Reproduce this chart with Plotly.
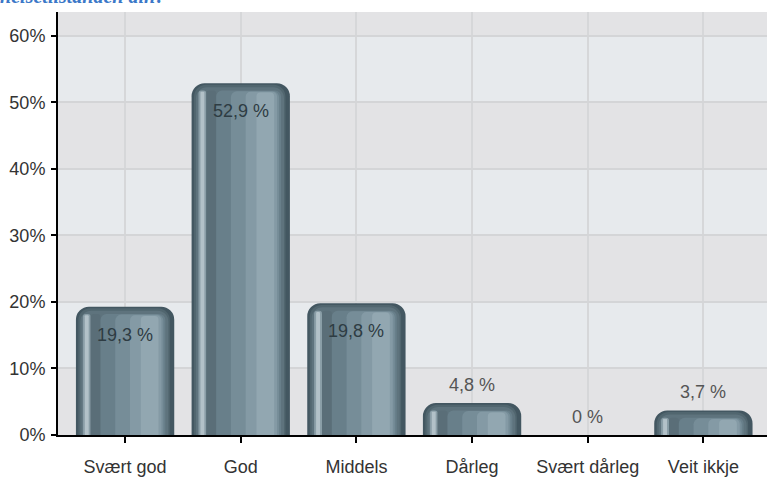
import plotly.graph_objects as go

# ---- data ----
categories = ["Svært god", "God", "Middels", "Dårleg", "Svært dårleg", "Veit ikkje"]
values = [19.3, 52.9, 19.8, 4.8, 0, 3.7]
value_labels = ["19,3 %", "52,9 %", "19,8 %", "4,8 %", "0 %", "3,7 %"]
y_tick_values = [0, 10, 20, 30, 40, 50, 60]
y_tick_labels = ["0%", "10%", "20%", "30%", "40%", "50%", "60%"]
title_text = "Korleis vurderer du helsetilstanden din?"

# ---- styling ----
FONT = "Liberation Sans, Arial, sans-serif"
BAR_W = 0.85
Y_MAX = 63.6
# strips to mimic the metallic cylinder gradient: (left frac, right frac, colour, corner radius px, top inset in %-points)
strips = [
    (0.00, 1.00, "#435761", 13, 0.0),
    (0.025, 0.955, "#51666f", 12, 0.25),
    (0.045, 0.94, "#5e737d", 11, 0.6),
    (0.07, 0.15, "#8a9ea7", 4, 1.1),
    (0.09, 0.13, "#b2c1c8", 3, 1.3),
    (0.15, 0.25, "#5a6e78", 3, 1.1),
    (0.25, 0.91, "#687f8a", 6, 1.1),
    (0.40, 0.89, "#768d98", 6, 1.2),
    (0.55, 0.87, "#849aa5", 5, 1.3),
    (0.66, 0.84, "#92a7b1", 4, 1.4),
]

fig = go.Figure()
for a, b, col, rad, inset in strips:
    heights = [max(v - inset, 0) if v > 0 else 0 for v in values]
    fig.add_trace(go.Bar(
        x=categories, y=heights,
        width=(b - a) * BAR_W,
        offset=-BAR_W / 2 + a * BAR_W,
        marker=dict(color=col, line=dict(width=0), cornerradius=rad),
        hoverinfo="skip", showlegend=False,
    ))

# value labels
for cat, v, lab in zip(categories, values, value_labels):
    inside = v > 10
    fig.add_annotation(
        x=cat, y=v, xref="x", yref="y", text=lab, showarrow=False,
        yanchor="top" if inside else "bottom",
        yshift=-16 if inside else 6,
        font=dict(family=FONT, size=18, color="#2e3c43" if inside else "#555555"),
    )

# cropped title at the very top
fig.add_annotation(
    x=(167 - 58) / 709, y=1.0, xref="paper", yref="paper", xanchor="right", yanchor="bottom",
    text="<b><i>" + title_text + "</i></b>", showarrow=False, yshift=3,
    font=dict(family="Liberation Serif, serif", size=20, color="#3b78c8"),
)

# alternating background bands
band_edges = y_tick_values + [Y_MAX]
for i in range(len(band_edges) - 1):
    col = "#e3e3e5" if i % 2 == 0 else "#e7eaed"
    fig.add_shape(type="rect", xref="paper", yref="y", x0=0, x1=1,
                  y0=band_edges[i], y1=band_edges[i + 1],
                  fillcolor=col, line=dict(width=0), layer="below")

fig.update_layout(
    width=767, height=477,
    margin=dict(l=58, r=0, t=12, b=39),
    paper_bgcolor="white", plot_bgcolor="#e7eaed",
    barmode="overlay", showlegend=False, hovermode=False,
    font=dict(family=FONT, size=18, color="#333333"),
)
fig.update_xaxes(
    type="category", range=[-0.58, 5.55],
    showline=True, linecolor="black", linewidth=2,
    ticks="outside", ticklen=6, tickcolor="black", tickwidth=1.5,
    showgrid=True, gridcolor="#d6d7d9", gridwidth=1.5,
    tickfont=dict(family=FONT, size=18, color="#333333"),
    ticklabelstandoff=8, zeroline=False,
)
fig.update_yaxes(
    range=[0, Y_MAX], tickvals=y_tick_values, ticktext=y_tick_labels,
    showline=True, linecolor="black", linewidth=2,
    ticks="outside", ticklen=5, tickcolor="black", tickwidth=1.5,
    showgrid=True, gridcolor="#d4d5d7", gridwidth=2,
    tickfont=dict(family=FONT, size=18, color="#333333"),
    ticklabelstandoff=2, zeroline=False,
)

fig.write_html("out.html")
